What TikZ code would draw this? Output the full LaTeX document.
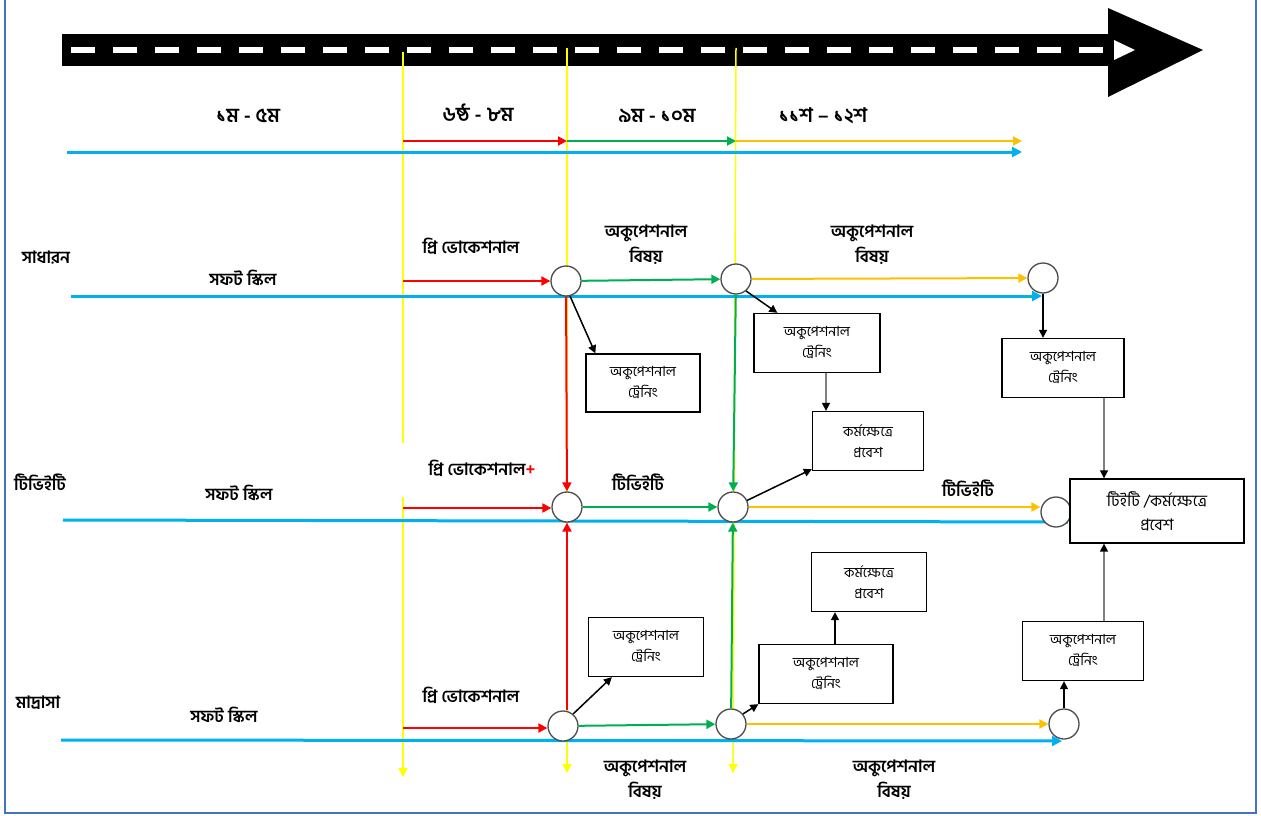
\documentclass[tikz,border=0pt]{standalone}
\usepackage{fontspec}
\newfontfamily\bn[Script=Bengali]{Hind Siliguri}
\usetikzlibrary{arrows.meta}
\definecolor{bluec}{HTML}{00B0F0}
\definecolor{redc}{HTML}{FF0000}
\definecolor{grnc}{HTML}{00B050}
\definecolor{orgc}{HTML}{FFC000}
\definecolor{yelc}{HTML}{FFFF00}
\definecolor{framec}{HTML}{4472C4}
\tikzset{
  ar/.style={-{Triangle[length=9pt,width=9pt]},line width=2pt},
  bl/.style={-{Triangle[length=10pt,width=10pt]},line width=3pt,bluec},
  yl/.style={line width=1.5pt,yelc},
  bk/.style={-{Triangle[length=8pt,width=8pt]},line width=1.5pt,black},
  gr/.style={-{Triangle[length=8pt,width=8pt,color=black]},line width=1.5pt,gray},
  box/.style={draw,line width=1.3pt,fill=white,align=center,inner sep=2pt,font=\bn\fontsize{14}{21}\selectfont},
  nd/.style={circle,draw=black!70,line width=1.3pt,fill=white,minimum size=30pt,inner sep=0pt},
  lbl/.style={align=center,inner sep=1pt,font=\bn\bfseries\fontsize{17}{25}\selectfont},
  cls/.style={lbl,font=\bn\bfseries\fontsize{20}{25}\selectfont}
}
\begin{document}
\begin{tikzpicture}[x=1pt,y=-1pt]
\useasboundingbox (0,0) rectangle (1261,816);
% frame
\draw[framec,line width=1.5pt] (5,0) -- (5,813) -- (1256,813) -- (1256,0);
% road
\fill[black] (62,34) rectangle (1108,66);
\fill[black] (1108,8) -- (1203,50) -- (1108,97) -- cycle;
\draw[white,line width=6pt,dash pattern=on 24pt off 18pt] (71,50) -- (1105,50);
\fill[white] (1114,40) -- (1135,50) -- (1114,60) -- cycle;

% year lines
\draw[yl] (403,52) -- (403,443);
\draw[yl,-{Triangle[length=9pt,width=9pt]}] (403,497) -- (403,777);
\draw[yl,-{Triangle[length=9pt,width=9pt]}] (567,48) -- (567,773);
\draw[yl,-{Triangle[length=9pt,width=9pt]}] (736,48) -- (733,773);

% classes
\node[cls] (y1) at (248,116) {১ম - ৫ম};
\node[cls] (y2) at (478,113) {৬ষ্ঠ - ৮ম};
\node[cls] (y3) at (657,116) {৯ম - ১০ম};
\node[cls] (y4) at (823,116) {১১শ – ১২শ};
\coordinate (t0) at (67,152);
\coordinate (t1) at (1022,152);
\draw[bl] (t0) -- (t1);
\coordinate (s1) at (403,141);
\coordinate (s2) at (567,141);
\coordinate (s3) at (736,141);
\coordinate (s4) at (1022,141);
\draw[ar,redc] (s1) -- (s2);
\draw[ar,grnc] (s2) -- (s3);
\draw[ar,orgc] (s3) -- (s4);

% streams
\node[lbl] (gen) at (46,258) {সাধারন};
\node[lbl] (tvet) at (40,482) {টিভিইটি};
\node[lbl] (mad) at (38,703) {মাদ্রাসা};
\foreach \x/\y in {243/278,239/493,224/715}{\node[lbl] at (\x,\y) {সফট স্কিল};}
\node[lbl] at (471,246) {প্রি ভোকেশনাল};
\node[lbl] at (482,468) {প্রি ভোকেশনাল{\color{redc}+}};
\node[lbl] at (471,695) {প্রি ভোকেশনাল};
\node[lbl] at (646,245) {অকুপেশনাল\\বিষয়};
\node[lbl] at (872,245) {অকুপেশনাল\\বিষয়};
\node[lbl] at (638,482) {টিভিইটি};
\node[lbl] at (968,488) {টিভিইটি};
\node[lbl] at (645,780) {অকুপেশনাল\\বিষয়};
\node[lbl] at (894,780) {অকুপেশনাল\\বিষয়};

% soft skill lines
\coordinate (u1) at (71,296);
\coordinate (u1e) at (1042,296);
\coordinate (u2) at (63,520);
\coordinate (u2e) at (1068,522);
\coordinate (u3) at (61,740);
\coordinate (u3e) at (1062,741);
\draw[bl] (u1) -- (u1e);
\draw[line width=3pt,bluec] (u2) -- (u2e);
\draw[bl] (u3) -- (u3e);

% junctions
\node[nd] (c11) at (566,281) {};
\node[nd] (c12) at (736,279) {};
\node[nd] (c13) at (1043,278) {};
\node[nd] (c21) at (567,507) {};
\node[nd] (c22) at (733,507) {};
\node[nd] (c23) at (1056,512) {};
\node[nd] (c31) at (563,726) {};
\node[nd] (c32) at (731,724) {};
\node[nd] (c33) at (1064,724) {};

% boxes
\node[box,minimum width=114pt,minimum height=58pt] (b1) at (643,383) {অকুপেশনাল\\ট্রেনিং};
\node[box,minimum width=126pt,minimum height=59pt] (b2) at (817,343) {অকুপেশনাল\\ট্রেনিং};
\node[box,minimum width=111pt,minimum height=59pt] (b3) at (868,441) {কর্মক্ষেত্রে\\প্রবেশ};
\node[box,minimum width=122pt,minimum height=59pt] (b4) at (1063,368) {অকুপেশনাল\\ট্রেনিং};
\node[box,minimum width=174pt,minimum height=64pt,font=\bn\fontsize{16}{24}\selectfont] (bb) at (1157,511) {টিইটি /কর্মক্ষেত্রে\\প্রবেশ};
\node[box,minimum width=115pt,minimum height=59pt] (b5) at (646,647) {অকুপেশনাল\\ট্রেনিং};
\node[box,minimum width=134pt,minimum height=59pt] (b6) at (826,674) {অকুপেশনাল\\ট্রেনিং};
\node[box,minimum width=115pt,minimum height=59pt] (b7) at (869,582) {কর্মক্ষেত্রে\\প্রবেশ};
\node[box,minimum width=121pt,minimum height=59pt] (b8) at (1083,651) {অকুপেশনাল\\ট্রেনিং};

% feeders
\coordinate (r1) at (403,281);
\coordinate (r2) at (403,508);
\coordinate (r3) at (403,728);
\draw[ar,redc] (r1) -- (r1 -| c11.west);
\draw[ar,redc] (r2) -- (r2 -| c21.west);
\draw[ar,redc] (r3) -- (r3 -| c31.west);
\draw[ar,grnc] (c11) -- (c12);
\draw[ar,grnc] (c21) -- (c22);
\draw[ar,grnc] (c31) -- (c32);
\draw[ar,orgc] (c12) -- (c13);
\draw[ar,orgc] (c22) -- (c22 -| c23.west);
\draw[ar,orgc] (c32) -- (c33);
\draw[ar,redc] (c11) -- (c21);
\draw[ar,redc] (c21.south |- c31.north) -- (c21);
\draw[ar,grnc] (c12) -- (c22);
\draw[ar,grnc] (c32) -- (c22);

% training and jobs
\draw[bk] (c11.-75) -- ([xshift=10pt]b1.north west);
\draw[bk] (c12.-50) -- ([xshift=24pt]b2.north west);
\draw[gr] ([xshift=9pt]b2.south) -- ([xshift=9pt]b2.south |- b3.north);
\draw[bk] (c22.25) -- ([yshift=2pt]b3.south west);
\draw[bk] (c13) -- (c13 |- b4.north);
\draw[gr] ([xshift=41pt]b4.south) -- ([xshift=41pt]b4.south |- bb.north);
\draw[bk] (c31.50) -- ([xshift=24pt]b5.south west);
\draw[bk] (c32.40) -- (b6.south west);
\draw[bk] ([xshift=9pt]b6.north) -- ([xshift=9pt]b6.north |- b7.south);
\draw[bk] (c33) -- (c33 |- b8.south);
\draw[gr] ([xshift=21pt]b8.north) -- ([xshift=21pt]b8.north |- bb.south);
\end{tikzpicture}
\end{document}
